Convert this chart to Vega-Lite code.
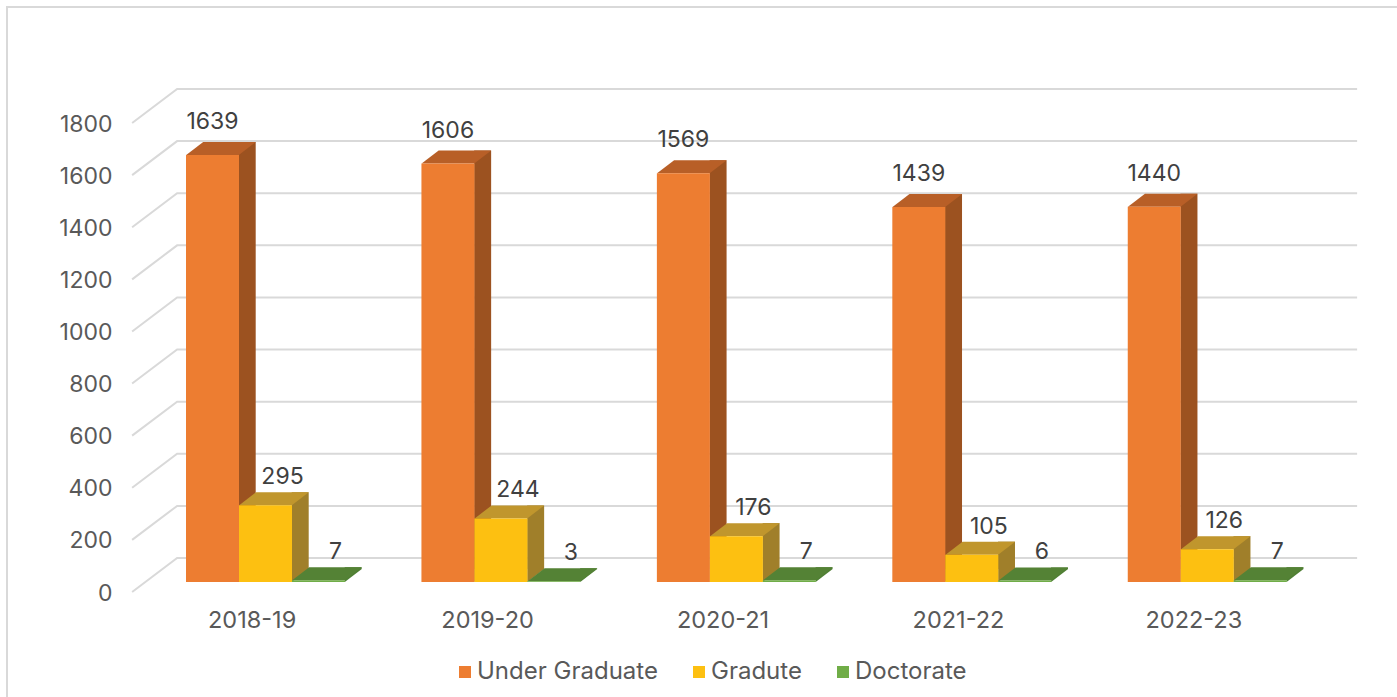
{
"$schema":"https://vega.github.io/schema/vega-lite/v6.json",
"width":1400,"height":700,
"autosize":{"type":"none"},
"padding":{"left":7,"top":7,"right":0,"bottom":0},
"background":"white",
"config":{"view":{"stroke":"#d9d9d9","strokeWidth":2},"font":"Inter"},
"datasets":{
"rows":[
{"year":"2018-19","level":"Under Graduate","count":1639},
{"year":"2018-19","level":"Gradute","count":295},
{"year":"2018-19","level":"Doctorate","count":7},
{"year":"2019-20","level":"Under Graduate","count":1606},
{"year":"2019-20","level":"Gradute","count":244},
{"year":"2019-20","level":"Doctorate","count":3},
{"year":"2020-21","level":"Under Graduate","count":1569},
{"year":"2020-21","level":"Gradute","count":176},
{"year":"2020-21","level":"Doctorate","count":7},
{"year":"2021-22","level":"Under Graduate","count":1439},
{"year":"2021-22","level":"Gradute","count":105},
{"year":"2021-22","level":"Doctorate","count":6},
{"year":"2022-23","level":"Under Graduate","count":1440},
{"year":"2022-23","level":"Gradute","count":126},
{"year":"2022-23","level":"Doctorate","count":7}
],
"ticks":[{"tick":0},{"tick":200},{"tick":400},{"tick":600},{"tick":800},{"tick":1000},{"tick":1200},{"tick":1400},{"tick":1600},{"tick":1800}]
},
"encoding":{
"x":{"field":"year","type":"nominal","scale":{"domain":["2018-19","2019-20","2020-21","2021-22","2022-23"],"range":[127.4,1304.6],"paddingInner":0,"paddingOuter":0},
"axis":{"title":null,"labelAngle":0,"domain":false,"ticks":false,"labelFontSize":23.5,"labelColor":"#595959","labelFont":"Inter","labelPadding":0,"offset":-87,"labelBaseline":"middle","labelOffset":0}},
"y":{"field":"count","type":"quantitative","scale":{"domain":[0,1800],"range":[575,106]},
"axis":{"title":null,"values":[0,200,400,600,800,1000,1200,1400,1600,1800],"format":"d","grid":false,"domain":false,"ticks":false,"labelFontSize":23,"labelColor":"#595959","labelFont":"Inter","labelPadding":0,"offset":-105,"labelOffset":11}}
},
"resolve":{"scale":{"color":"independent","xOffset":"independent"}},
"layer":[
{"data":{"name":"ticks"},
 "mark":{"type":"point","shape":"M-120 10 L-75 -24 L1105 -24","size":4,"filled":false,"stroke":"#d9d9d9","strokeWidth":2,"opacity":1},
 "encoding":{"x":{"datum":"2018-19"},"y":{"field":"tick","type":"quantitative"}}},
{"data":{"name":"rows"},
 "mark":{"type":"bar","yOffset":-13,"y2Offset":-13,"width":17,"align":"left"},
 "encoding":{
  "xOffset":{"field":"level","sort":["Under Graduate","Gradute","Doctorate"],"scale":{"type":"band","domain":["Under Graduate","Gradute","Doctorate"],"range":[104.3,263.3],"paddingInner":0,"paddingOuter":0}},
  "y2":{"datum":0},
  "color":{"field":"level","legend":null,"scale":{"domain":["Under Graduate","Gradute","Doctorate"],"range":["#9c5220","#a07f2a","#4f7f34"]}}}},
{"data":{"name":"rows"},
 "mark":{"type":"point","shape":"M26.3 0 L43.3 -13 L26.3 -13 Z","size":4,"filled":true,"opacity":1},
 "encoding":{
  "y":{"datum":0},
  "xOffset":{"field":"level","sort":["Under Graduate","Gradute","Doctorate"],"scale":{"type":"band","domain":["Under Graduate","Gradute","Doctorate"],"range":[51.6,210.6],"paddingInner":0,"paddingOuter":0}},
  "color":{"field":"level","legend":null,"scale":{"domain":["Under Graduate","Gradute","Doctorate"],"range":["#9c5220","#a07f2a","#4f7f34"]}}}},
{"data":{"name":"rows"},
 "mark":{"type":"point","shape":"M-26.3 0 L26.3 0 L43.3 -13 L-9.3 -13 Z","size":4,"filled":true,"opacity":1},
 "encoding":{
  "xOffset":{"field":"level","sort":["Under Graduate","Gradute","Doctorate"],"scale":{"type":"band","domain":["Under Graduate","Gradute","Doctorate"],"range":[51.6,210.6],"paddingInner":0,"paddingOuter":0}},
  "color":{"field":"level","legend":null,"scale":{"domain":["Under Graduate","Gradute","Doctorate"],"range":["#b85f27","#c0962d","#548235"]}}}},
{"data":{"name":"rows"},
 "mark":{"type":"bar"},
 "encoding":{
  "xOffset":{"field":"level","sort":["Under Graduate","Gradute","Doctorate"],"scale":{"type":"band","domain":["Under Graduate","Gradute","Doctorate"],"range":[51.6,210.6],"paddingInner":0,"paddingOuter":0}},
  "y2":{"datum":0},
  "color":{"field":"level","sort":["Under Graduate","Gradute","Doctorate"],"scale":{"domain":["Under Graduate","Gradute","Doctorate"],"range":["#ed7d31","#fdc011","#70ad47"]},
   "legend":{"title":null,"orient":"none","legendX":446,"legendY":653,"direction":"horizontal","symbolType":"square","symbolSize":144,"symbolStrokeWidth":0,"labelFontSize":24,"labelColor":"#595959","labelFont":"Inter","labelLimit":400,"columnPadding":29,"labelOffset":0}}}},
{"data":{"name":"rows"},
 "transform":[{"filter":"datum.level == 'Under Graduate'"}],
 "mark":{"type":"text","fontSize":23,"color":"#404040","font":"Inter","yOffset":-33},
 "encoding":{
  "xOffset":{"field":"level","sort":["Under Graduate","Gradute","Doctorate"],"scale":{"type":"band","domain":["Under Graduate","Gradute","Doctorate"],"range":[51.6,210.6],"paddingInner":0,"paddingOuter":0}},
  "text":{"field":"count","type":"quantitative"}}},
{"data":{"name":"rows"},
 "transform":[{"filter":"datum.level != 'Under Graduate'"}],
 "mark":{"type":"text","fontSize":23,"color":"#404040","font":"Inter","yOffset":-28,"dx":17},
 "encoding":{
  "xOffset":{"field":"level","sort":["Under Graduate","Gradute","Doctorate"],"scale":{"type":"band","domain":["Under Graduate","Gradute","Doctorate"],"range":[51.6,210.6],"paddingInner":0,"paddingOuter":0}},
  "text":{"field":"count","type":"quantitative"}}}
]
}
